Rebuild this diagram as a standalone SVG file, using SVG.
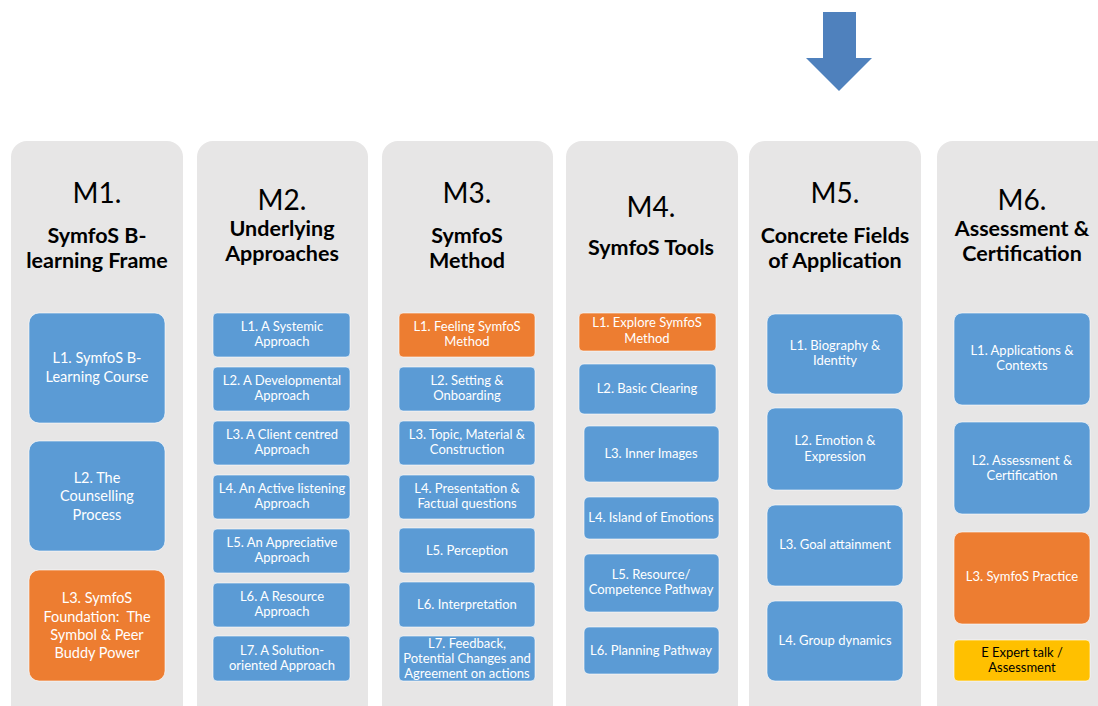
<svg xmlns="http://www.w3.org/2000/svg" width="1098" height="706" viewBox="0 0 1098 706">
  <style>
    .panel { fill: #E7E6E6; }
    .box { stroke: #FFFFFF; stroke-opacity: 0.6; stroke-width: 1; }
    .blue { fill: #5B9BD5; }
    .orange { fill: #ED7D31; }
    .yellow { fill: #FFC000; }
    .mod { font-family: Lato, "Liberation Sans", sans-serif; font-size: 28px; fill: #000; text-anchor: middle; }
    .sub { font-family: Lato, "Liberation Sans", sans-serif; font-size: 21.5px; font-weight: bold; fill: #000; text-anchor: middle; }
    .lbl { font-family: Lato, "Liberation Sans", sans-serif; font-size: 13px; fill: #FFFFFF; text-anchor: middle; }
    .big { font-size: 14.5px; }
    .dark { fill: #000000; }
  </style>
  <rect width="1098" height="706" fill="#FFFFFF"/>

  <!-- down arrow above M5 -->
  <g id="arrow">
    <polygon points="823,12 856,12 856,58 872,58 839,91 806,58 823,58" fill="#4F81BD"/>
  </g>

  <!-- M1 -->
  <g id="m1">
    <rect class="panel" x="11" y="141" width="172" height="600" rx="16"/>
    <text class="mod" x="97" y="203">M1.</text>
    <text class="sub" x="97" y="243">SymfoS B-</text>
    <text class="sub" x="97" y="268">learning Frame</text>
    <g id="m1-l1">
      <rect class="box blue" x="29" y="313" width="136" height="110" rx="10"/>
      <text class="lbl big" x="97" y="363">L1. SymfoS B-</text>
      <text class="lbl big" x="97" y="382">Learning Course</text>
    </g>
    <g id="m1-l2">
      <rect class="box blue" x="29" y="441" width="136" height="110" rx="10"/>
      <text class="lbl big" x="97" y="483">L2. The</text>
      <text class="lbl big" x="97" y="501">Counselling</text>
      <text class="lbl big" x="97" y="520">Process</text>
    </g>
    <g id="m1-l3">
      <rect class="box orange" x="29" y="570" width="136" height="111" rx="10"/>
      <text class="lbl big" x="97" y="603">L3. SymfoS</text>
      <text class="lbl big" x="97" y="622" xml:space="preserve">Foundation:  The</text>
      <text class="lbl big" x="97" y="640">Symbol &amp; Peer</text>
      <text class="lbl big" x="97" y="658">Buddy Power</text>
    </g>
  </g>

  <!-- M2 -->
  <g id="m2">
    <rect class="panel" x="197" y="141" width="171" height="600" rx="16"/>
    <text class="mod" x="282" y="210">M2.</text>
    <text class="sub" x="282" y="236">Underlying</text>
    <text class="sub" x="282" y="261">Approaches</text>
    <g id="m2-l1"><rect class="box blue" x="213" y="313" width="137" height="44" rx="4"/>
      <text class="lbl" x="282" y="331">L1. A Systemic</text><text class="lbl" x="282" y="346">Approach</text></g>
    <g id="m2-l2"><rect class="box blue" x="213" y="367" width="137" height="44" rx="4"/>
      <text class="lbl" x="282" y="385">L2. A Developmental</text><text class="lbl" x="282" y="400">Approach</text></g>
    <g id="m2-l3"><rect class="box blue" x="213" y="421" width="137" height="44" rx="4"/>
      <text class="lbl" x="282" y="439">L3. A Client centred</text><text class="lbl" x="282" y="454">Approach</text></g>
    <g id="m2-l4"><rect class="box blue" x="213" y="475" width="137" height="44" rx="4"/>
      <text class="lbl" x="282" y="493">L4. An Active listening</text><text class="lbl" x="282" y="508">Approach</text></g>
    <g id="m2-l5"><rect class="box blue" x="213" y="529" width="137" height="44" rx="4"/>
      <text class="lbl" x="282" y="547">L5. An Appreciative</text><text class="lbl" x="282" y="562">Approach</text></g>
    <g id="m2-l6"><rect class="box blue" x="213" y="583" width="137" height="44" rx="4"/>
      <text class="lbl" x="282" y="601">L6. A Resource</text><text class="lbl" x="282" y="616">Approach</text></g>
    <g id="m2-l7"><rect class="box blue" x="213" y="636" width="137" height="45" rx="4"/>
      <text class="lbl" x="282" y="655">L7. A Solution-</text><text class="lbl" x="282" y="670">oriented Approach</text></g>
  </g>

  <!-- M3 -->
  <g id="m3">
    <rect class="panel" x="382" y="141" width="171" height="600" rx="16"/>
    <text class="mod" x="467" y="203">M3.</text>
    <text class="sub" x="467" y="243">SymfoS</text>
    <text class="sub" x="467" y="268">Method</text>
    <g id="m3-l1"><rect class="box orange" x="399" y="313" width="136" height="44" rx="4"/>
      <text class="lbl" x="467" y="331">L1. Feeling SymfoS</text><text class="lbl" x="467" y="346">Method</text></g>
    <g id="m3-l2"><rect class="box blue" x="399" y="367" width="136" height="44" rx="4"/>
      <text class="lbl" x="467" y="385">L2. Setting &amp;</text><text class="lbl" x="467" y="400">Onboarding</text></g>
    <g id="m3-l3"><rect class="box blue" x="399" y="421" width="136" height="44" rx="4"/>
      <text class="lbl" x="467" y="439">L3. Topic, Material &amp;</text><text class="lbl" x="467" y="454">Construction</text></g>
    <g id="m3-l4"><rect class="box blue" x="399" y="475" width="136" height="44" rx="4"/>
      <text class="lbl" x="467" y="493">L4. Presentation &amp;</text><text class="lbl" x="467" y="508">Factual questions</text></g>
    <g id="m3-l5"><rect class="box blue" x="399" y="528" width="136" height="45" rx="4"/>
      <text class="lbl" x="467" y="555">L5. Perception</text></g>
    <g id="m3-l6"><rect class="box blue" x="399" y="582" width="136" height="45" rx="4"/>
      <text class="lbl" x="467" y="609">L6. Interpretation</text></g>
    <g id="m3-l7"><rect class="box blue" x="399" y="636" width="136" height="45" rx="4"/>
      <text class="lbl" x="467" y="648">L7. Feedback,</text><text class="lbl" x="467" y="663">Potential Changes and</text><text class="lbl" x="467" y="678">Agreement on actions</text></g>
  </g>

  <!-- M4 -->
  <g id="m4">
    <rect class="panel" x="566" y="141" width="172" height="600" rx="16"/>
    <text class="mod" x="651" y="217">M4.</text>
    <text class="sub" x="651" y="255">SymfoS Tools</text>
    <g id="m4-l1"><rect class="box orange" x="579" y="313" width="137" height="38" rx="4"/>
      <text class="lbl" x="647" y="327">L1. Explore SymfoS</text><text class="lbl" x="647" y="343">Method</text></g>
    <g id="m4-l2"><rect class="box blue" x="579" y="364" width="137" height="50" rx="5"/>
      <text class="lbl" x="647" y="393">L2. Basic Clearing</text></g>
    <g id="m4-l3"><rect class="box blue" x="584" y="426" width="135" height="56" rx="5"/>
      <text class="lbl" x="651" y="458">L3. Inner Images</text></g>
    <g id="m4-l4"><rect class="box blue" x="584" y="497" width="135" height="42" rx="5"/>
      <text class="lbl" x="651" y="522">L4. Island of Emotions</text></g>
    <g id="m4-l5"><rect class="box blue" x="584" y="554" width="135" height="58" rx="5"/>
      <text class="lbl" x="651" y="579">L5. Resource/</text><text class="lbl" x="651" y="594">Competence Pathway</text></g>
    <g id="m4-l6"><rect class="box blue" x="584" y="627" width="135" height="47" rx="5"/>
      <text class="lbl" x="651" y="655">L6. Planning Pathway</text></g>
  </g>

  <!-- M5 -->
  <g id="m5">
    <rect class="panel" x="749" y="141" width="172" height="600" rx="16"/>
    <text class="mod" x="835" y="203">M5.</text>
    <text class="sub" x="835" y="243">Concrete Fields</text>
    <text class="sub" x="835" y="268">of Application</text>
    <g id="m5-l1"><rect class="box blue" x="767" y="314" width="136" height="80" rx="8"/>
      <text class="lbl" x="835" y="350">L1. Biography &amp;</text><text class="lbl" x="835" y="365">Identity</text></g>
    <g id="m5-l2"><rect class="box blue" x="767" y="408" width="136" height="82" rx="8"/>
      <text class="lbl" x="835" y="445">L2. Emotion &amp;</text><text class="lbl" x="835" y="461">Expression</text></g>
    <g id="m5-l3"><rect class="box blue" x="767" y="505" width="136" height="81" rx="8"/>
      <text class="lbl" x="835" y="549">L3. Goal attainment</text></g>
    <g id="m5-l4"><rect class="box blue" x="767" y="601" width="136" height="80" rx="8"/>
      <text class="lbl" x="835" y="645">L4. Group dynamics</text></g>
  </g>

  <!-- M6 -->
  <g id="m6">
    <rect class="panel" x="937" y="141" width="180" height="600" rx="16"/>
    <text class="mod" x="1022" y="210">M6.</text>
    <text class="sub" x="1022" y="236">Assessment &amp;</text>
    <text class="sub" x="1022" y="261">Certification</text>
    <g id="m6-l1"><rect class="box blue" x="954" y="313" width="136" height="92" rx="8"/>
      <text class="lbl" x="1022" y="355">L1. Applications &amp;</text><text class="lbl" x="1022" y="370">Contexts</text></g>
    <g id="m6-l2"><rect class="box blue" x="954" y="422" width="136" height="92" rx="8"/>
      <text class="lbl" x="1022" y="465">L2. Assessment &amp;</text><text class="lbl" x="1022" y="480">Certification</text></g>
    <g id="m6-l3"><rect class="box orange" x="954" y="532" width="136" height="92" rx="8"/>
      <text class="lbl" x="1022" y="581">L3. SymfoS Practice</text></g>
    <g id="m6-e"><rect class="box yellow" x="954" y="640" width="136" height="41" rx="4"/>
      <text class="lbl dark" x="1022" y="657">E Expert talk /</text><text class="lbl dark" x="1022" y="672">Assessment</text></g>
  </g>

  <!-- no connectors in this layout -->
  <g id="connectors"/>
</svg>
